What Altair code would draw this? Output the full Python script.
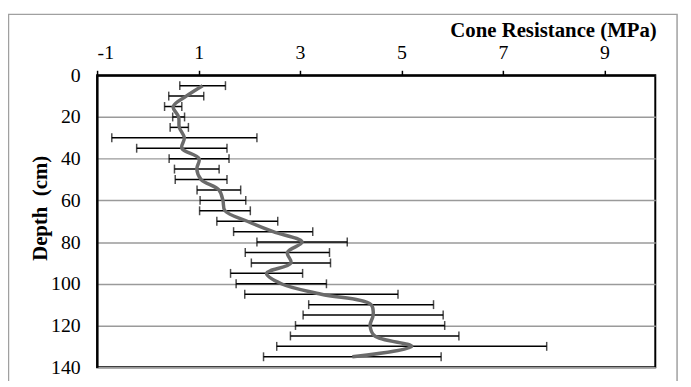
import altair as alt
import pandas as pd

depth = [5, 10, 15, 20, 25, 30, 35, 40, 45, 50, 55, 60, 65, 70, 75, 80, 85, 90,
         95, 100, 105, 110, 115, 120, 125, 130, 135]
mean = [1.08, 0.757, 0.50, 0.607, 0.62, 0.72, 0.67, 1.01, 0.965, 1.05, 1.40,
        1.48, 1.52, 1.96, 2.47, 3.04, 2.75, 2.82, 2.34, 2.63, 3.42, 4.40, 4.44,
        4.38, 4.47, 5.20, 4.03]
sd = [0.45, 0.345, 0.17, 0.117, 0.18, 1.43, 0.89, 0.59, 0.44, 0.51, 0.43,
      0.45, 0.50, 0.60, 0.78, 0.89, 0.83, 0.78, 0.71, 0.89, 1.51, 1.23, 1.38,
      1.47, 1.66, 2.66, 1.75]

x_ticks = [-1, 1, 3, 5, 7, 9]
y_ticks = [0, 20, 40, 60, 80, 100, 120, 140]

df = pd.DataFrame({"depth": depth, "mean": mean, "sd": sd})
df["lo"] = df["mean"] - df["sd"]
df["hi"] = df["mean"] + df["sd"]

FONT = "Liberation Serif"

xscale = alt.Scale(domain=[-1, 10], nice=False, zero=False)
yscale = alt.Scale(domain=[0, 140], reverse=True, nice=False, zero=False)

xaxis = alt.Axis(orient="top", values=x_ticks, grid=False, domainColor="black",
                 domainWidth=2, tickColor="black", tickSize=5, tickWidth=1.5,
                 labelFont=FONT, labelFontSize=20, labelColor="black",
                 labelExpr="datum.value < 0 ? '-' + abs(datum.value) : '' + datum.value",
                 labelBaseline="alphabetic", labelPadding=12,
                 title="Cone Resistance (MPa)",
                 titleFont=FONT, titleFontSize=21, titleFontWeight="bold",
                 titleColor="black", titleAnchor="end", titleAlign="right",
                 titleX=565, titleY=-39.5, titleBaseline="alphabetic")
yaxis = alt.Axis(orient="left", values=y_ticks, grid=True, gridColor="#9a9a9a",
                 gridWidth=1.5, ticks=False, domainColor="black", domainWidth=2,
                 labelFont=FONT, labelFontSize=20, labelColor="black",
                 labelPadding=17, title="Depth \u00a0(cm)", titleFont=FONT,
                 titleFontSize=21, titleFontWeight="bold", titleColor="black",
                 titleX=-51, titleY=134, titleBaseline="alphabetic",
                 titleAngle=270)

base = alt.Chart(df)

frame = base.mark_rect(fillOpacity=0, stroke="#a0a0a0", strokeWidth=1.5).encode(
    x=alt.value(-89.5), x2=alt.value(586), y=alt.value(-61.5), y2=alt.value(330)
).transform_filter(alt.datum.depth == 5)

bars = base.mark_rule(color="black", strokeWidth=1.5).encode(
    x=alt.X("lo:Q", scale=xscale, axis=xaxis),
    x2="hi:Q",
    y=alt.Y("depth:Q", scale=yscale, axis=yaxis),
)
cap_lo = base.mark_tick(color="black", orient="vertical", size=9, thickness=1.5).encode(
    x=alt.X("lo:Q", scale=xscale), y=alt.Y("depth:Q", scale=yscale))
cap_hi = base.mark_tick(color="black", orient="vertical", size=9, thickness=1.5).encode(
    x=alt.X("hi:Q", scale=xscale), y=alt.Y("depth:Q", scale=yscale))

line = base.mark_line(color="#6b6b6b", strokeWidth=3.5, interpolate="catmull-rom").encode(
    x=alt.X("mean:Q", scale=xscale),
    y=alt.Y("depth:Q", scale=yscale),
    order="depth:Q",
)

chart = alt.layer(frame, bars, cap_lo, cap_hi, line).properties(
    width=564, height=295,
    autosize=alt.AutoSizeParams(type="none"),
    padding={"left": 90, "top": 66, "right": 28, "bottom": 12},
    background="white",
).configure_view(stroke="black", strokeWidth=2)

chart.save("out.html", embed_options={"renderer": "svg", "actions": False})
